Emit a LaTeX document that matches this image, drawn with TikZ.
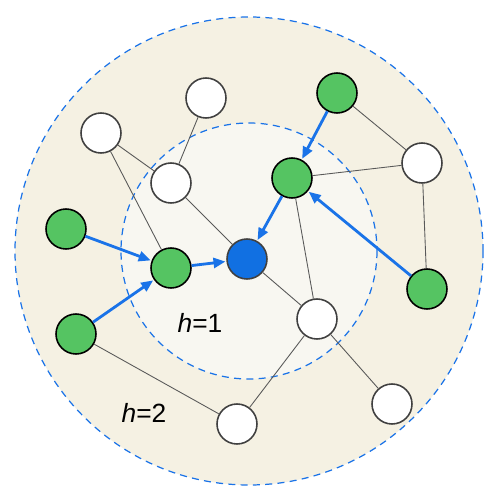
\documentclass[tikz,border=0pt]{standalone}
\usepackage{fontspec}
\setmainfont{Liberation Sans}
\usepackage{tikz}
\usetikzlibrary{arrows.meta}
\definecolor{ringout}{HTML}{F5F1E3}
\definecolor{ringin}{HTML}{F8F7F1}
\definecolor{hopblue}{HTML}{1A73E8}
\definecolor{nbgreen}{HTML}{55C462}
\definecolor{tgtblue}{HTML}{1170E2}
\begin{document}
\begin{tikzpicture}[x=0.02cm, y=-0.02cm,
      ring/.style={draw=hopblue, dash pattern=on 4pt off 3pt, line width=0.7pt},
      vtx/.style={circle, draw=black!75, line width=0.9pt, minimum size=0.8cm, inner sep=0pt, fill=white},
      nb/.style={vtx, fill=nbgreen, draw=black},
      tgt/.style={vtx, fill=tgtblue},
      edge/.style={draw=black!65, line width=0.5pt},
      msg/.style={-{Triangle[length=2.4mm, width=2mm]}, hopblue, line width=1.6pt, shorten >=0.5pt},
      lbl/.style={font=\fontsize{15}{18}\selectfont}]
    \useasboundingbox (0,0) rectangle (498,503);
    % hop rings
    \draw[ring, fill=ringout] (249,251) circle[radius=234];
    \draw[ring, fill=ringin] (249,251) circle[radius=128];
    % vertices
    \node[tgt] (c) at (247,259) {};
    \node[nb] (g1) at (171,268) {};
    \node[nb] (g2) at (292,178) {};
    \node[nb] (g3) at (66,229) {};
    \node[nb] (g4) at (76,334) {};
    \node[nb] (g5) at (337,93) {};
    \node[nb] (g6) at (427,289) {};
    \node[vtx] (w1) at (101,133) {};
    \node[vtx] (w2) at (206,98) {};
    \node[vtx] (w3) at (171,183) {};
    \node[vtx] (w4) at (422,163) {};
    \node[vtx] (w5) at (317,319) {};
    \node[vtx] (w6) at (392,404) {};
    \node[vtx] (w7) at (237,424) {};
    % plain edges
    \foreach \a/\b in {w1/w3, w1/g1, w2/w3, w3/c, g2/w4, g5/w4, w4/g6, g2/w5, c/w5, w5/w6, w5/w7, g4/w7}
      \draw[edge] (\a) -- (\b);
    % messages
    \draw[msg] (g3) -- (g1);
    \draw[msg] (g4) -- (g1);
    \draw[msg] (g1) -- (c);
    \draw[msg] (g5) -- (g2);
    \draw[msg] (g2) -- (c);
    \draw[msg] (g6) -- (g2);
    % hop labels
    \node[lbl] (h1) at (200,323) {\textit{h}=1};
    \node[lbl] (h2) at (144,413) {\textit{h}=2};
\end{tikzpicture}
\end{document}
